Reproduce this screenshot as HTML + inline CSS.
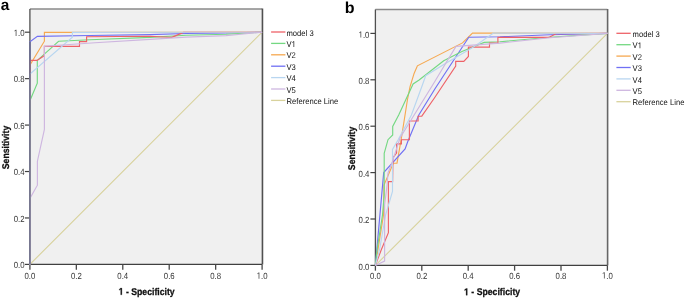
<!DOCTYPE html>
<html><head><meta charset="utf-8"><style>
html,body{margin:0;padding:0;background:#fff;}
body{width:685px;height:299px;overflow:hidden;}
svg{display:block;}
#w{will-change:transform;width:685px;height:299px;}
text{text-rendering:geometricPrecision;}
text{font-family:"Liberation Sans", sans-serif;fill:#222;}
.tk{font-size:7.8px;fill:#333;}
.lg{font-size:7.65px;fill:#111;}
.tt{font-size:8.7px;font-weight:bold;fill:#111;stroke:#111;stroke-width:0.25px;}
.h{fill-opacity:0;stroke-opacity:0;}
.pl{font-size:16px;font-weight:bold;fill:#000;}
</style></head><body>
<div id="w"><svg width="685" height="299" viewBox="0 0 685 299">
<rect x="29.9" y="9.0" width="232.20000000000002" height="255.39999999999998" fill="#f0f0f0"/>
<line x1="29.9" y1="264.4" x2="262.1" y2="32.2" stroke="#d8d29c" stroke-width="1.1"/>
<line x1="29.9" y1="9.0" x2="262.1" y2="9.0" stroke="#8a8a8a" stroke-width="1.4"/>
<line x1="262.45000000000005" y1="8.4" x2="262.45000000000005" y2="264.4" stroke="#505050" stroke-width="1.6"/>
<line x1="29.9" y1="9.0" x2="29.9" y2="264.4" stroke="#505050" stroke-width="1.3"/>
<line x1="29.9" y1="264.4" x2="262.1" y2="264.4" stroke="#404040" stroke-width="1.3"/>
<line x1="24.9" y1="264.40" x2="29.9" y2="264.40" stroke="#404040" stroke-width="1.2"/>
<line x1="29.90" y1="264.4" x2="29.90" y2="269.79999999999995" stroke="#484848" stroke-width="1.3"/>
<text transform="translate(24.6,268.20) scale(1,1.15)" text-anchor="end" class="tk">0.0</text>
<text transform="translate(29.90,278.70) scale(1,1.15)" text-anchor="middle" class="tk">0.0</text>
<line x1="24.9" y1="217.96" x2="29.9" y2="217.96" stroke="#404040" stroke-width="1.2"/>
<line x1="76.34" y1="264.4" x2="76.34" y2="269.79999999999995" stroke="#484848" stroke-width="1.3"/>
<text transform="translate(24.6,221.76) scale(1,1.15)" text-anchor="end" class="tk">0.2</text>
<text transform="translate(76.34,278.70) scale(1,1.15)" text-anchor="middle" class="tk">0.2</text>
<line x1="24.9" y1="171.52" x2="29.9" y2="171.52" stroke="#404040" stroke-width="1.2"/>
<line x1="122.78" y1="264.4" x2="122.78" y2="269.79999999999995" stroke="#484848" stroke-width="1.3"/>
<text transform="translate(24.6,175.32) scale(1,1.15)" text-anchor="end" class="tk">0.4</text>
<text transform="translate(122.78,278.70) scale(1,1.15)" text-anchor="middle" class="tk">0.4</text>
<line x1="24.9" y1="125.08" x2="29.9" y2="125.08" stroke="#404040" stroke-width="1.2"/>
<line x1="169.22" y1="264.4" x2="169.22" y2="269.79999999999995" stroke="#484848" stroke-width="1.3"/>
<text transform="translate(24.6,128.88) scale(1,1.15)" text-anchor="end" class="tk">0.6</text>
<text transform="translate(169.22,278.70) scale(1,1.15)" text-anchor="middle" class="tk">0.6</text>
<line x1="24.9" y1="78.64" x2="29.9" y2="78.64" stroke="#404040" stroke-width="1.2"/>
<line x1="215.66" y1="264.4" x2="215.66" y2="269.79999999999995" stroke="#484848" stroke-width="1.3"/>
<text transform="translate(24.6,82.44) scale(1,1.15)" text-anchor="end" class="tk">0.8</text>
<text transform="translate(215.66,278.70) scale(1,1.15)" text-anchor="middle" class="tk">0.8</text>
<line x1="24.9" y1="32.20" x2="29.9" y2="32.20" stroke="#404040" stroke-width="1.2"/>
<line x1="262.10" y1="264.4" x2="262.10" y2="269.79999999999995" stroke="#484848" stroke-width="1.3"/>
<g transform="translate(24.6,36.00) scale(1,1.15)"><text text-anchor="end" class="tk"><tspan class="h">1</tspan>.0</text><path transform="translate(-10.843,0) scale(0.003809,-0.003809)" d="M515 0V1237L197 1010V1180L530 1409H696V0Z" fill="#333"/></g>
<g transform="translate(262.10,278.70) scale(1,1.15)"><text text-anchor="middle" class="tk"><tspan class="h">1</tspan>.0</text><path transform="translate(-5.422,0) scale(0.003809,-0.003809)" d="M515 0V1237L197 1010V1180L530 1409H696V0Z" fill="#333"/></g>
<polyline points="29.9,264.4 30.3,64.5 44.4,41.2 44.4,32.3 262.1,32.2" fill="none" stroke="#f6a850" stroke-width="1.15" stroke-linejoin="miter"/>
<polyline points="29.9,264.4 29.9,41.7 37.4,36.4 90.0,35.5 150.0,34.6 186.0,33.5 226.0,33.0 262.1,32.2" fill="none" stroke="#7070f4" stroke-width="1.15" stroke-linejoin="miter"/>
<polyline points="29.9,264.4 29.9,100.7 37.3,83.2 37.3,60.4 58.6,41.3 90.0,39.8 150.0,37.4 186.0,35.3 226.0,34.2 262.1,32.2" fill="none" stroke="#74d882" stroke-width="1.15" stroke-linejoin="miter"/>
<polyline points="29.9,264.4 29.9,60.4 37.0,60.4 44.4,55.6 44.4,46.3 79.5,46.3 79.5,41.6 86.6,41.6 86.6,36.7 150.0,36.3 168.0,37.3 171.8,37.4 183.5,32.4 262.1,32.2" fill="none" stroke="#ee6268" stroke-width="1.15" stroke-linejoin="miter"/>
<polyline points="29.9,264.4 29.9,74.1 72.4,37.3 72.4,32.3 262.1,32.2" fill="none" stroke="#b8d6f0" stroke-width="1.15" stroke-linejoin="miter"/>
<polyline points="29.9,264.4 29.9,198.5 37.4,185.2 37.4,161.2 44.4,129.4 44.4,46.3 54.0,45.6 66.0,44.8 95.0,42.8 150.0,39.4 186.0,37.1 226.0,35.6 262.1,32.2" fill="none" stroke="#ceb6e0" stroke-width="1.15" stroke-linejoin="miter"/>
<line x1="29.9" y1="41.7" x2="29.9" y2="264.4" stroke="#6e7189" stroke-width="1.6"/>
<g transform="translate(146.7,294.8) scale(1,1.12)"><text text-anchor="middle" class="tt"><tspan class="h">1</tspan> - Specificity</text><path transform="translate(-28.043,0) scale(0.004248,-0.004248)" d="M478 0V1170L140 959V1180L493 1409H759V0Z" fill="#111" stroke="#111" stroke-width="58.851"/></g>
<text transform="translate(9.3,147.5) rotate(-90) scale(1,1.12)" text-anchor="middle" class="tt">Sensitivity</text>
<line x1="271.1" y1="32.00" x2="285.4" y2="32.00" stroke="#ee6268" stroke-width="1.3"/>
<text transform="translate(286.5,35.60) scale(1,1.08)" text-anchor="start" class="lg">model 3</text>
<line x1="271.1" y1="43.40" x2="285.4" y2="43.40" stroke="#74d882" stroke-width="1.3"/>
<g transform="translate(286.5,47.00) scale(1,1.08)"><text text-anchor="start" class="lg">V<tspan class="h">1</tspan></text><path transform="translate(5.102,0) scale(0.003735,-0.003735)" d="M515 0V1237L197 1010V1180L530 1409H696V0Z" fill="#111"/></g>
<line x1="271.1" y1="54.80" x2="285.4" y2="54.80" stroke="#f6a850" stroke-width="1.3"/>
<text transform="translate(286.5,58.40) scale(1,1.08)" text-anchor="start" class="lg">V2</text>
<line x1="271.1" y1="66.20" x2="285.4" y2="66.20" stroke="#7070f4" stroke-width="1.3"/>
<text transform="translate(286.5,69.80) scale(1,1.08)" text-anchor="start" class="lg">V3</text>
<line x1="271.1" y1="77.60" x2="285.4" y2="77.60" stroke="#b8d6f0" stroke-width="1.3"/>
<text transform="translate(286.5,81.20) scale(1,1.08)" text-anchor="start" class="lg">V4</text>
<line x1="271.1" y1="89.00" x2="285.4" y2="89.00" stroke="#ceb6e0" stroke-width="1.3"/>
<text transform="translate(286.5,92.60) scale(1,1.08)" text-anchor="start" class="lg">V5</text>
<line x1="271.1" y1="100.40" x2="285.4" y2="100.40" stroke="#d8d29c" stroke-width="1.3"/>
<text transform="translate(286.5,104.00) scale(1,1.08)" text-anchor="start" class="lg">Reference Line</text>
<text x="0.7" y="10.25" class="pl" style="font-size:15.4px">a</text>
<rect x="375.4" y="9.5" width="232.0" height="255.89999999999998" fill="#f0f0f0"/>
<line x1="375.4" y1="265.4" x2="607.4" y2="33.4" stroke="#d8d29c" stroke-width="1.1"/>
<line x1="375.4" y1="9.5" x2="607.4" y2="9.5" stroke="#8a8a8a" stroke-width="1.4"/>
<line x1="607.6" y1="8.9" x2="607.6" y2="265.4" stroke="#666666" stroke-width="1.6"/>
<line x1="375.4" y1="9.5" x2="375.4" y2="265.4" stroke="#505050" stroke-width="1.3"/>
<line x1="375.4" y1="265.4" x2="607.4" y2="265.4" stroke="#404040" stroke-width="1.3"/>
<line x1="370.4" y1="265.40" x2="375.4" y2="265.40" stroke="#404040" stroke-width="1.2"/>
<line x1="375.40" y1="265.4" x2="375.40" y2="270.7" stroke="#484848" stroke-width="1.3"/>
<text transform="translate(369.4,269.60) scale(1,1.15)" text-anchor="end" class="tk">0.0</text>
<text transform="translate(375.40,278.50) scale(1,1.15)" text-anchor="middle" class="tk">0.0</text>
<line x1="370.4" y1="219.00" x2="375.4" y2="219.00" stroke="#404040" stroke-width="1.2"/>
<line x1="421.80" y1="265.4" x2="421.80" y2="270.7" stroke="#484848" stroke-width="1.3"/>
<text transform="translate(369.4,223.20) scale(1,1.15)" text-anchor="end" class="tk">0.2</text>
<text transform="translate(421.80,278.50) scale(1,1.15)" text-anchor="middle" class="tk">0.2</text>
<line x1="370.4" y1="172.60" x2="375.4" y2="172.60" stroke="#404040" stroke-width="1.2"/>
<line x1="468.20" y1="265.4" x2="468.20" y2="270.7" stroke="#484848" stroke-width="1.3"/>
<text transform="translate(369.4,176.80) scale(1,1.15)" text-anchor="end" class="tk">0.4</text>
<text transform="translate(468.20,278.50) scale(1,1.15)" text-anchor="middle" class="tk">0.4</text>
<line x1="370.4" y1="126.20" x2="375.4" y2="126.20" stroke="#404040" stroke-width="1.2"/>
<line x1="514.60" y1="265.4" x2="514.60" y2="270.7" stroke="#484848" stroke-width="1.3"/>
<text transform="translate(369.4,130.40) scale(1,1.15)" text-anchor="end" class="tk">0.6</text>
<text transform="translate(514.60,278.50) scale(1,1.15)" text-anchor="middle" class="tk">0.6</text>
<line x1="370.4" y1="79.80" x2="375.4" y2="79.80" stroke="#404040" stroke-width="1.2"/>
<line x1="561.00" y1="265.4" x2="561.00" y2="270.7" stroke="#484848" stroke-width="1.3"/>
<text transform="translate(369.4,84.00) scale(1,1.15)" text-anchor="end" class="tk">0.8</text>
<text transform="translate(561.00,278.50) scale(1,1.15)" text-anchor="middle" class="tk">0.8</text>
<line x1="370.4" y1="33.40" x2="375.4" y2="33.40" stroke="#404040" stroke-width="1.2"/>
<line x1="607.40" y1="265.4" x2="607.40" y2="270.7" stroke="#484848" stroke-width="1.3"/>
<g transform="translate(369.4,37.60) scale(1,1.15)"><text text-anchor="end" class="tk"><tspan class="h">1</tspan>.0</text><path transform="translate(-10.843,0) scale(0.003809,-0.003809)" d="M515 0V1237L197 1010V1180L530 1409H696V0Z" fill="#333"/></g>
<g transform="translate(607.40,278.50) scale(1,1.15)"><text text-anchor="middle" class="tk"><tspan class="h">1</tspan>.0</text><path transform="translate(-5.422,0) scale(0.003809,-0.003809)" d="M515 0V1237L197 1010V1180L530 1409H696V0Z" fill="#333"/></g>
<polyline points="375.4,265.4 377.9,250.0 383.5,215.0 384.0,185.0 393.3,163.3 397.0,163.2 401.4,138.0 407.4,100.0 410.0,86.8 414.1,73.4 417.4,65.8 462.5,42.9 472.5,33.1 607.4,33.4" fill="none" stroke="#f6a850" stroke-width="1.15" stroke-linejoin="miter"/>
<polyline points="375.4,265.4 383.7,172.6 405.1,149.0 407.6,142.0 418.8,115.0 435.0,88.7 455.1,58.0 468.8,37.3 500.0,36.8 550.0,34.8 607.4,33.4" fill="none" stroke="#7070f4" stroke-width="1.15" stroke-linejoin="miter"/>
<polyline points="375.4,265.4 377.0,250.0 382.5,215.0 384.2,195.0 384.2,153.3 388.0,139.7 392.7,135.0 392.7,126.4 398.7,115.0 413.1,84.0 419.1,80.0 443.7,60.7 461.9,51.4 484.2,42.4 500.0,41.7 550.0,37.2 607.4,33.4" fill="none" stroke="#74d882" stroke-width="1.15" stroke-linejoin="miter"/>
<polyline points="375.4,265.4 381.2,250.0 388.4,232.6 388.4,181.6 392.6,181.6 393.0,157.6 396.6,153.0 396.6,143.8 401.4,143.8 401.4,139.7 409.4,139.7 409.4,121.0 418.1,121.0 418.1,116.2 421.8,116.2 434.4,98.0 455.7,66.0 455.7,61.3 463.8,61.3 468.4,56.5 468.4,47.1 489.5,47.1 489.5,43.1 497.9,43.1 497.9,37.4 548.8,37.4 556.4,33.6 607.4,33.4" fill="none" stroke="#ee6268" stroke-width="1.15" stroke-linejoin="miter"/>
<polyline points="375.4,265.4 379.5,250.0 385.6,215.0 392.5,191.5 392.5,149.5 398.0,140.0 411.4,115.0 422.4,85.0 425.7,75.7 445.0,63.7 473.5,47.0 493.5,33.0 607.4,33.4" fill="none" stroke="#b8d6f0" stroke-width="1.15" stroke-linejoin="miter"/>
<polyline points="375.4,265.4 384.6,261.1 384.6,205.0 387.1,185.0 388.0,172.8 392.3,162.0 400.0,138.0 434.5,82.0 444.7,65.0 456.0,46.4 500.0,43.1 550.0,37.8 607.4,33.4" fill="none" stroke="#ceb6e0" stroke-width="1.15" stroke-linejoin="miter"/>
<g transform="translate(492.1,295.2) scale(1,1.12)"><text text-anchor="middle" class="tt"><tspan class="h">1</tspan> - Specificity</text><path transform="translate(-28.043,0) scale(0.004248,-0.004248)" d="M478 0V1170L140 959V1180L493 1409H759V0Z" fill="#111" stroke="#111" stroke-width="58.851"/></g>
<text transform="translate(355.0,148.4) rotate(-90) scale(1,1.12)" text-anchor="middle" class="tt">Sensitivity</text>
<line x1="616.4" y1="33.30" x2="630.7" y2="33.30" stroke="#ee6268" stroke-width="1.3"/>
<text transform="translate(632.6,36.90) scale(1,1.08)" text-anchor="start" class="lg">model 3</text>
<line x1="616.4" y1="44.70" x2="630.7" y2="44.70" stroke="#74d882" stroke-width="1.3"/>
<g transform="translate(632.6,48.30) scale(1,1.08)"><text text-anchor="start" class="lg">V<tspan class="h">1</tspan></text><path transform="translate(5.102,0) scale(0.003735,-0.003735)" d="M515 0V1237L197 1010V1180L530 1409H696V0Z" fill="#111"/></g>
<line x1="616.4" y1="56.10" x2="630.7" y2="56.10" stroke="#f6a850" stroke-width="1.3"/>
<text transform="translate(632.6,59.70) scale(1,1.08)" text-anchor="start" class="lg">V2</text>
<line x1="616.4" y1="67.50" x2="630.7" y2="67.50" stroke="#7070f4" stroke-width="1.3"/>
<text transform="translate(632.6,71.10) scale(1,1.08)" text-anchor="start" class="lg">V3</text>
<line x1="616.4" y1="78.90" x2="630.7" y2="78.90" stroke="#b8d6f0" stroke-width="1.3"/>
<text transform="translate(632.6,82.50) scale(1,1.08)" text-anchor="start" class="lg">V4</text>
<line x1="616.4" y1="90.30" x2="630.7" y2="90.30" stroke="#ceb6e0" stroke-width="1.3"/>
<text transform="translate(632.6,93.90) scale(1,1.08)" text-anchor="start" class="lg">V5</text>
<line x1="616.4" y1="101.70" x2="630.7" y2="101.70" stroke="#d8d29c" stroke-width="1.3"/>
<text transform="translate(632.6,105.30) scale(1,1.08)" text-anchor="start" class="lg">Reference Line</text>
<text x="344.65" y="13.0" class="pl" style="font-size:16px">b</text>
</svg></div>
</body></html>
